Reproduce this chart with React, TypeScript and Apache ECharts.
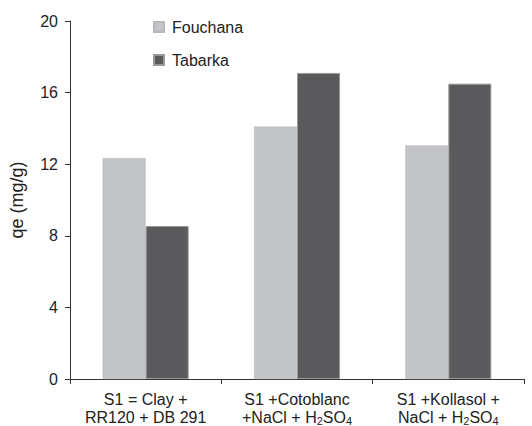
import React, { useEffect, useRef } from "react";
import * as echarts from "echarts";

const categories = [
  "S1 = Clay +\nRR120 + DB 291",
  "S1 +Cotoblanc\n+NaCl + H{sub|2}SO{sub|4}",
  "S1 +Kollasol +\nNaCl + H{sub|2}SO{sub|4}",
];
const fouchana = [12.35, 14.1, 13.05];
const tabarka = [8.55, 17.1, 16.5];
const yTicks = { min: 0, max: 20, interval: 4 };

export default function App() {
  const ref = useRef<HTMLDivElement>(null);
  useEffect(() => {
    const chart = echarts.init(ref.current!, null, { renderer: "svg" });
    const font = "Liberation Sans, Arial, sans-serif";
    chart.setOption({
      animation: false,
      textStyle: { fontFamily: font },
      grid: { left: 69, top: 21, right: 8, bottom: 46.5, containLabel: false },
      legend: {
        orient: "vertical",
        left: 153,
        top: 19,
        padding: 0,
        itemWidth: 10,
        itemHeight: 10,
        itemGap: 17,
        icon: "rect",
        textStyle: { fontSize: 16, color: "#222", fontFamily: font, padding: [0, 0, 0, 3] },
        data: ["Fouchana", "Tabarka"],
      },
      xAxis: {
        type: "category",
        data: categories,
        boundaryGap: true,
        axisLine: { lineStyle: { color: "#333", width: 1 } },
        axisTick: { show: true, length: 5, alignWithLabel: false, lineStyle: { color: "#333" } },
        axisLabel: {
          interval: 0,
          margin: 11,
          fontSize: 16,
          lineHeight: 18,
          color: "#222",
          fontFamily: font,
          rich: {
            n: { fontSize: 16, lineHeight: 18, color: "#222", fontFamily: font },
            sub: { fontSize: 11, lineHeight: 10, verticalAlign: "bottom", color: "#222", fontFamily: font },
          },
        },
        splitLine: { show: false },
      },
      yAxis: {
        type: "value",
        min: yTicks.min,
        max: yTicks.max,
        interval: yTicks.interval,
        name: "qe (mg/g)",
        nameLocation: "middle",
        nameGap: 44,
        nameTextStyle: { fontSize: 18, color: "#222", fontFamily: font },
        axisLine: { show: true, lineStyle: { color: "#333", width: 1 } },
        axisTick: { show: true, length: 5, inside: false, lineStyle: { color: "#333" } },
        axisLabel: { fontSize: 16, color: "#222", margin: 12, fontFamily: font },
        splitLine: { show: false },
      },
      series: [
        {
          name: "Fouchana",
          type: "bar",
          data: fouchana,
          barWidth: 43,
          barGap: "0%",
          itemStyle: { color: "#c3c4c8", borderColor: "#b8b9bd", borderWidth: 0.5 },
        },
        {
          name: "Tabarka",
          type: "bar",
          data: tabarka,
          barWidth: 43,
          barGap: "0%",
          itemStyle: { color: "#5a5a5c", borderColor: "#9a9a9a", borderWidth: 1 },
        },
      ],
    });
    return () => chart.dispose();
  }, []);
  return (
    <div
      ref={ref}
      style={{ position: "absolute", left: 0, top: 0, width: 532, height: 426, overflow: "hidden" }}
    />
  );
}
